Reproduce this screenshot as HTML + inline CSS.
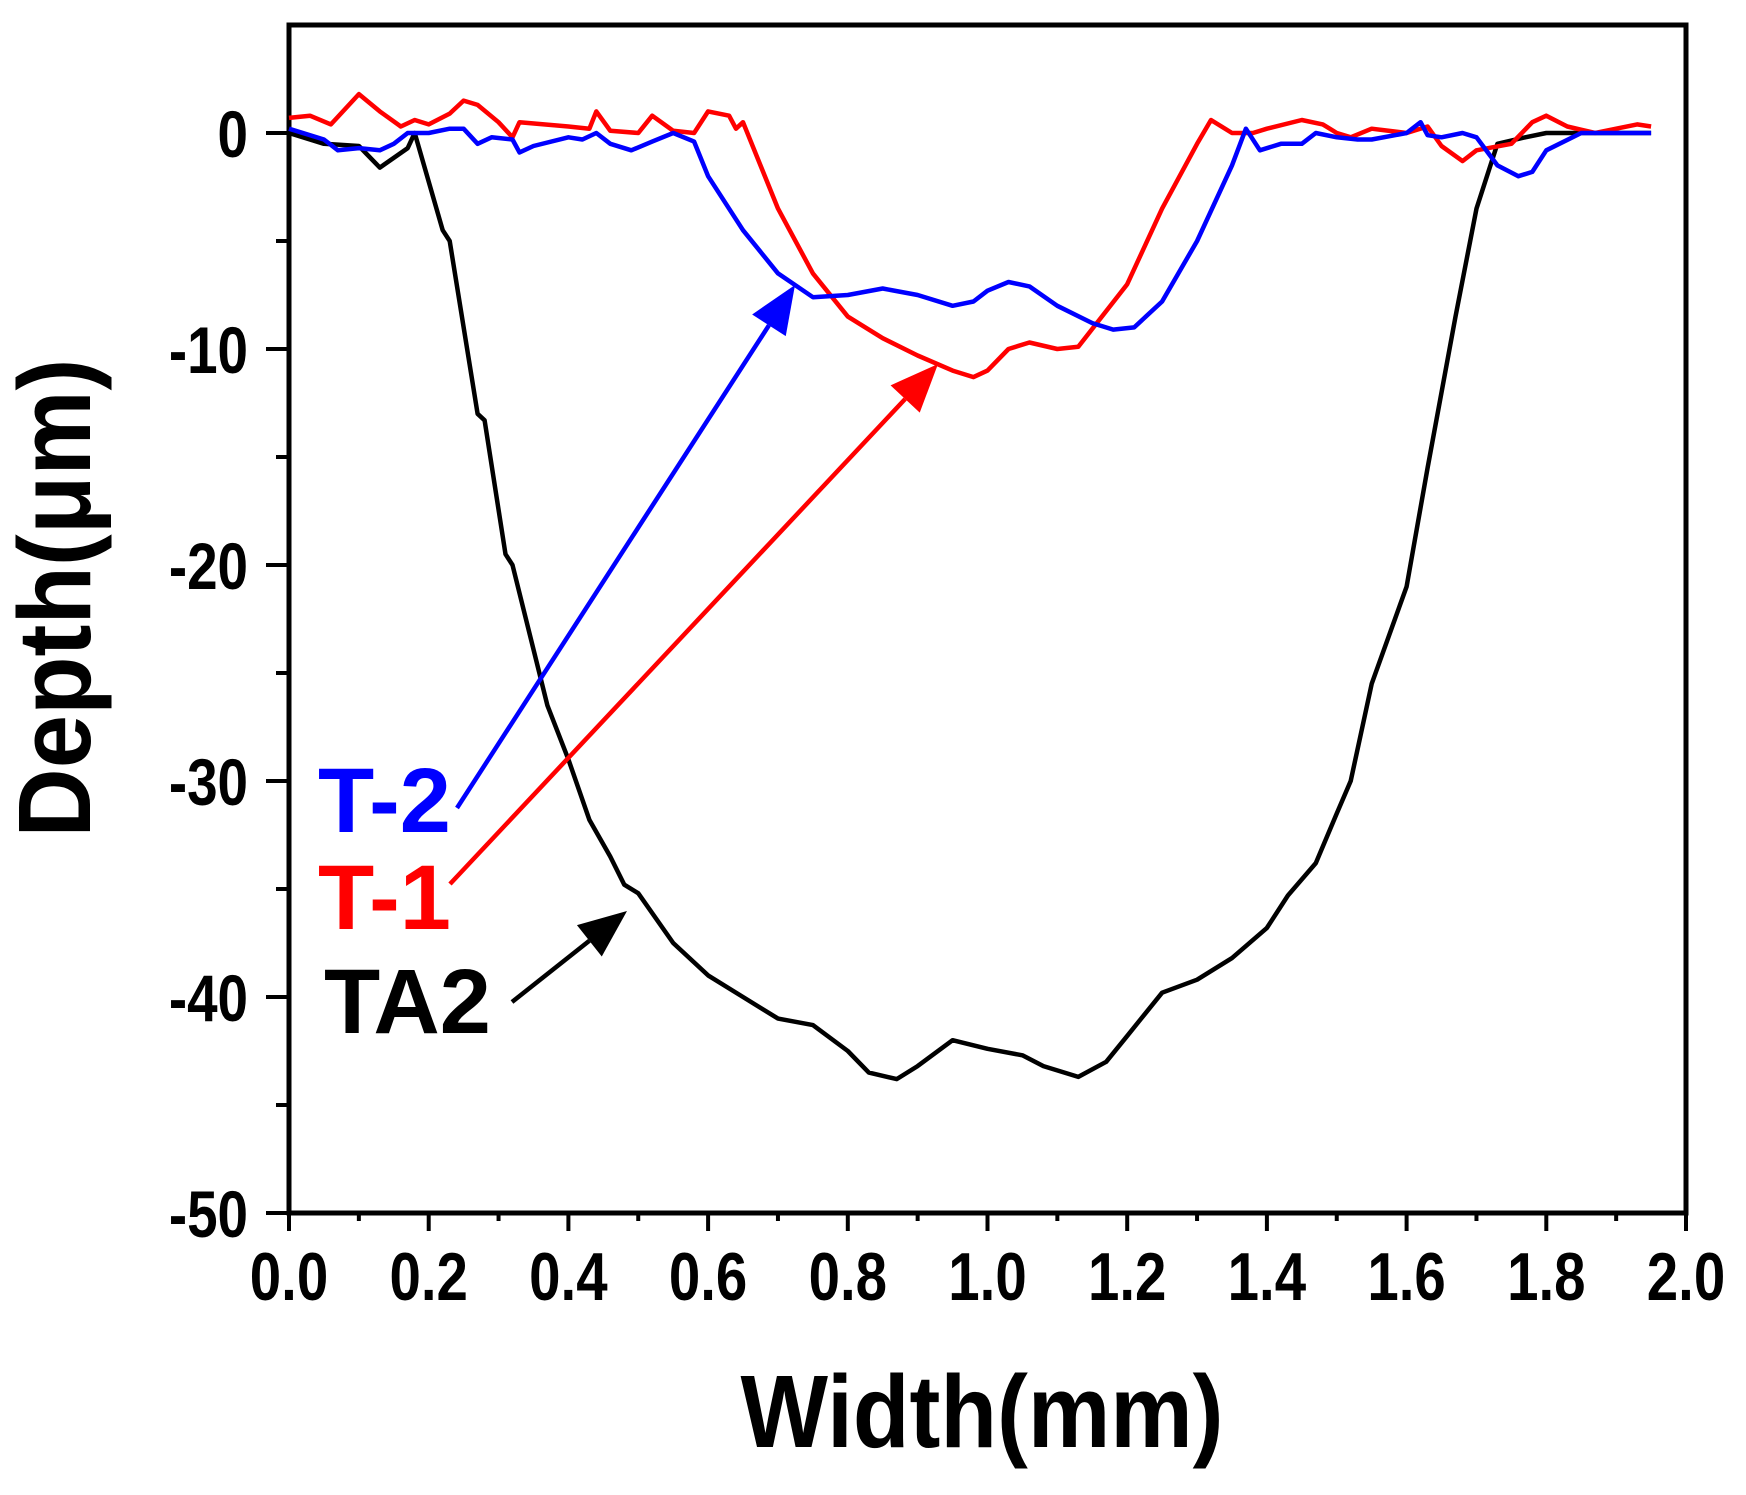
<!DOCTYPE html>
<html><head><meta charset="utf-8"><style>
html,body{margin:0;padding:0;background:#fff;}
svg{display:block;font-family:"Liberation Sans",sans-serif;font-weight:bold;}
</style></head><body>
<svg id="chart" width="1746" height="1495" viewBox="0 0 1746 1495" xmlns="http://www.w3.org/2000/svg">
<g id="plot"></g>
</svg>
<script>
const xTicks = [0,0.2,0.4,0.6,0.8,1.0,1.2,1.4,1.6,1.8,2.0];
const xTickLabels = ["0.0","0.2","0.4","0.6","0.8","1.0","1.2","1.4","1.6","1.8","2.0"];
const yTicks = [0,-10,-20,-30,-40,-50];
const yTickLabels = ["0","-10","-20","-30","-40","-50"];
const ta2X = [0,0.05,0.1,0.13,0.17,0.18,0.22,0.23,0.27,0.28,0.31,0.32,0.37,0.4,0.43,0.46,0.48,0.5,0.55,0.6,0.65,0.7,0.75,0.8,0.83,0.87,0.9,0.95,1.0,1.05,1.08,1.13,1.17,1.2,1.25,1.3,1.35,1.4,1.43,1.47,1.5,1.52,1.55,1.6,1.63,1.67,1.7,1.73,1.77,1.8,1.85,1.9,1.95];
const ta2Y = [0,-0.5,-0.6,-1.6,-0.7,0,-4.5,-5,-13,-13.3,-19.5,-20,-26.5,-29,-31.8,-33.5,-34.8,-35.2,-37.5,-39,-40,-41,-41.3,-42.5,-43.5,-43.8,-43.2,-42,-42.4,-42.7,-43.2,-43.7,-43,-41.8,-39.8,-39.2,-38.2,-36.8,-35.3,-33.8,-31.5,-30,-25.5,-21,-15.5,-8.5,-3.5,-0.5,-0.2,0,0,0,0];
const t1X = [0,0.03,0.06,0.1,0.13,0.16,0.18,0.2,0.23,0.25,0.27,0.3,0.32,0.33,0.4,0.43,0.44,0.46,0.5,0.52,0.55,0.58,0.6,0.63,0.64,0.65,0.7,0.75,0.8,0.85,0.9,0.95,0.98,1.0,1.03,1.06,1.1,1.13,1.2,1.25,1.3,1.32,1.35,1.38,1.4,1.45,1.48,1.5,1.52,1.55,1.6,1.63,1.65,1.68,1.7,1.75,1.78,1.8,1.83,1.87,1.9,1.93,1.95];
const t1Y = [0.7,0.8,0.4,1.8,1,0.3,0.6,0.4,0.9,1.5,1.3,0.5,-0.2,0.5,0.3,0.2,1,0.1,0,0.8,0.1,0,1,0.8,0.2,0.5,-3.5,-6.5,-8.5,-9.5,-10.3,-11,-11.3,-11,-10,-9.7,-10,-9.9,-7,-3.5,-0.5,0.6,0,0,0.2,0.6,0.4,0,-0.2,0.2,0,0.3,-0.6,-1.3,-0.8,-0.5,0.5,0.8,0.3,0,0.2,0.4,0.3];
const t2X = [0,0.05,0.07,0.1,0.13,0.15,0.17,0.2,0.23,0.25,0.27,0.29,0.32,0.33,0.35,0.4,0.42,0.44,0.46,0.49,0.52,0.55,0.58,0.6,0.65,0.7,0.75,0.8,0.85,0.9,0.95,0.98,1.0,1.03,1.06,1.1,1.15,1.18,1.21,1.25,1.3,1.35,1.37,1.39,1.42,1.45,1.47,1.5,1.53,1.55,1.6,1.62,1.63,1.65,1.68,1.7,1.73,1.76,1.78,1.8,1.85,1.9,1.95];
const t2Y = [0.2,-0.3,-0.8,-0.7,-0.8,-0.5,0,0,0.2,0.2,-0.5,-0.2,-0.3,-0.9,-0.6,-0.2,-0.3,0,-0.5,-0.8,-0.4,0,-0.4,-2,-4.5,-6.5,-7.6,-7.5,-7.2,-7.5,-8,-7.8,-7.3,-6.9,-7.1,-8,-8.8,-9.1,-9,-7.8,-5,-1.5,0.2,-0.8,-0.5,-0.5,0,-0.2,-0.3,-0.3,0,0.5,-0.1,-0.2,0,-0.2,-1.5,-2,-1.8,-0.8,0,0,0];

const L=289,R=1686,T=25,B=1213, XMIN=0,XMAX=2,YMIN=-50,YMAX=5;
const sx=v=>L+(v-XMIN)/(XMAX-XMIN)*(R-L);
const sy=v=>B-(v-YMIN)/(YMAX-YMIN)*(B-T);
const NS="http://www.w3.org/2000/svg";
const g=document.getElementById('plot');
function mk(tag,attrs,parent){const e=document.createElementNS(NS,tag);for(const k in attrs)e.setAttribute(k,attrs[k]);(parent||g).appendChild(e);return e;}

const frame=mk('rect',{x:L,y:T,width:R-L,height:B-T,fill:'none',stroke:'#000','stroke-width':5});



for(let i=0;i<=20;i++){const v=i*0.1;const major=i%2===0;
 const t=mk('line',{x1:sx(v),x2:sx(v),y1:B,y2:B+(major?18:8),stroke:'#000','stroke-width':4});
 
 }
xTicks.forEach((v,i)=>{const t=mk('text',{transform:`translate(${sx(v)},1300) scale(0.83,1)`,'text-anchor':'middle','font-size':68,fill:'#000'});
 t.textContent=xTickLabels[i];
 
 });
for(let i=0;i<=10;i++){const v=-i*5;const major=i%2===0;
 const t=mk('line',{x1:L,x2:L-(major?23:13),y1:sy(v),y2:sy(v),stroke:'#000','stroke-width':4});
 
 }
yTicks.forEach((v,i)=>{const t=mk('text',{transform:`translate(248,${sy(v)+24}) scale(0.83,1)`,'text-anchor':'end','font-size':66,fill:'#000'});
 t.textContent=yTickLabels[i];
 
 });

const xt=mk('text',{transform:'translate(982,1447) scale(0.9,1)','text-anchor':'middle','font-size':103,fill:'#000'});
xt.textContent='Width(mm)';


const yt=mk('text',{transform:'translate(90,598) rotate(-90) scale(0.93,1)','text-anchor':'middle','font-size':103,fill:'#000'});
yt.textContent='Depth(μm)';



function series(xs,ys,color,name){const d=xs.map((x,i)=>(i?'L':'M')+sx(x).toFixed(1)+','+sy(ys[i]).toFixed(1)).join(' ');
 const p=mk('path',{d:d,fill:'none',stroke:color,'stroke-width':4.5,'stroke-linejoin':'round'});
 
 }
series(ta2X,ta2Y,'#000000','series-ta2');
series(t1X,t1Y,'#ff0000','series-t1');
series(t2X,t2Y,'#0000ff','series-t2');

function arrow(x1,y1,x2,y2,color,name){
 const ang=Math.atan2(y2-y1,x2-x1),len=48,w=20;
 const bx=x2-len*Math.cos(ang),by=y2-len*Math.sin(ang);
 const l=mk('line',{x1:x1,y1:y1,x2:bx,y2:by,stroke:color,'stroke-width':4.5});
 
 
 const px=-Math.sin(ang)*w,py=Math.cos(ang)*w;
 const h=mk('path',{d:`M${x2},${y2} L${bx+px},${by+py} L${bx-px},${by-py} Z`,fill:color});
 
 }
arrow(457,808,795,285,'#0000ff','t2-arrow');
arrow(450,884,938,364,'#ff0000','t1-arrow');
arrow(512,1002,627,911,'#000000','ta2-arrow');

function label(txt,x,y,color,name){const t=mk('text',{transform:`translate(${x},${y})`,'font-size':92,fill:color});
 t.textContent=txt;
 
 }
label('T-2',318,832,'#0000ff','t2-label');
label('T-1',318,929,'#ff0000','t1-label');
label('TA2',324,1033,'#000000','ta2-label');
</script>
</body></html>
